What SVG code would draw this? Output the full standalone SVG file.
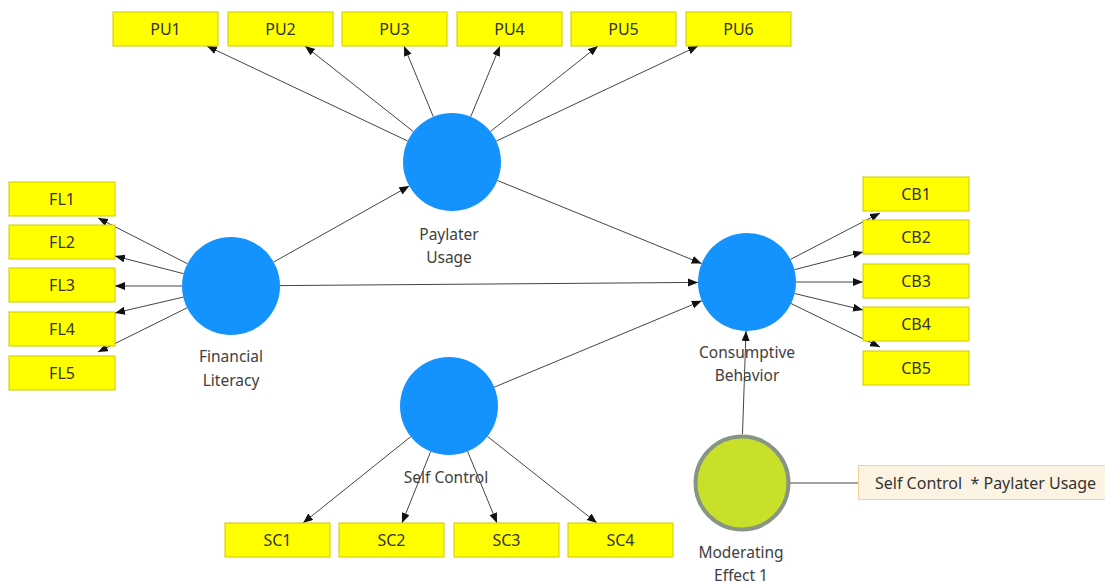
<svg xmlns="http://www.w3.org/2000/svg" width="1105" height="585" viewBox="0 0 1105 585">
<defs>
<marker id="arr" markerUnits="userSpaceOnUse" markerWidth="11" markerHeight="9" refX="10" refY="4" orient="auto">
<path d="M0,0 L10,4 L0,8 z" fill="#111"/>
</marker>
<style>
.box{fill:#ffff00;stroke:#cfc800;stroke-width:1}
.bt{font-family:"Noto Sans","Open Sans",sans-serif;font-size:16px;fill:#333;text-anchor:middle;dominant-baseline:central}
.lv{fill:#1493ff}
.lt{font-family:"Noto Sans","Open Sans",sans-serif;font-size:15.5px;fill:#404040;text-anchor:middle}
.c line{stroke:#444;stroke-width:1;marker-end:url(#arr)}
</style>
</defs>
<rect width="1105" height="585" fill="#fff"/>
<g class="c" id="connectors">
<line x1="407.7" y1="141" x2="207" y2="46"/>
<line x1="413.5" y1="131.7" x2="305" y2="46"/>
<line x1="433.3" y1="116.7" x2="404" y2="46"/>
<line x1="470.7" y1="116.7" x2="500" y2="46"/>
<line x1="490.4" y1="131.5" x2="598" y2="46"/>
<line x1="496.3" y1="141.1" x2="698" y2="46"/>
<line x1="187.4" y1="263.7" x2="98" y2="218"/>
<line x1="183.6" y1="273.7" x2="115" y2="256"/>
<line x1="182" y1="286" x2="115" y2="286"/>
<line x1="183.3" y1="297.1" x2="115" y2="313"/>
<line x1="187.1" y1="307.8" x2="98" y2="352"/>
<line x1="790.5" y1="259.4" x2="880" y2="213"/>
<line x1="794.4" y1="269.7" x2="863" y2="252"/>
<line x1="796" y1="282" x2="863" y2="282"/>
<line x1="794.6" y1="293.5" x2="863" y2="310"/>
<line x1="791" y1="303.5" x2="880" y2="347"/>
<line x1="410.8" y1="436.6" x2="303" y2="523"/>
<line x1="430.7" y1="451.5" x2="402" y2="523"/>
<line x1="467.6" y1="451.3" x2="497" y2="523"/>
<line x1="487.4" y1="436.4" x2="597" y2="523"/>
<line x1="273.7" y1="262" x2="409.3" y2="186"/>
<line x1="280" y1="285.6" x2="698" y2="282.4"/>
<line x1="497.4" y1="180.5" x2="701.6" y2="263.5"/>
<line x1="494.2" y1="387.2" x2="701.8" y2="300.8"/>
<line x1="742.5" y1="434" x2="746" y2="331"/>
<line x1="790" y1="483" x2="858" y2="483" style="marker-end:none"/>
</g>
<g id="PU1"><rect class="box" x="113" y="12" width="105" height="34"/><text class="bt" x="165.5" y="29">PU1</text></g>
<g id="PU2"><rect class="box" x="228" y="12" width="105" height="34"/><text class="bt" x="280.5" y="29">PU2</text></g>
<g id="PU3"><rect class="box" x="342" y="12" width="105" height="34"/><text class="bt" x="394.5" y="29">PU3</text></g>
<g id="PU4"><rect class="box" x="457" y="12" width="105" height="34"/><text class="bt" x="509.5" y="29">PU4</text></g>
<g id="PU5"><rect class="box" x="571" y="12" width="105" height="34"/><text class="bt" x="623.5" y="29">PU5</text></g>
<g id="PU6"><rect class="box" x="686" y="12" width="105" height="34"/><text class="bt" x="738.5" y="29">PU6</text></g>
<g id="FL1"><rect class="box" x="9" y="182" width="106" height="34"/><text class="bt" x="62" y="199">FL1</text></g>
<g id="FL2"><rect class="box" x="9" y="225" width="106" height="34"/><text class="bt" x="62" y="242">FL2</text></g>
<g id="FL3"><rect class="box" x="9" y="268" width="106" height="34"/><text class="bt" x="62" y="285">FL3</text></g>
<g id="FL4"><rect class="box" x="9" y="312" width="106" height="34"/><text class="bt" x="62" y="329">FL4</text></g>
<g id="FL5"><rect class="box" x="9" y="356" width="106" height="34"/><text class="bt" x="62" y="373">FL5</text></g>
<g id="CB1"><rect class="box" x="863" y="177" width="106" height="34"/><text class="bt" x="916" y="194">CB1</text></g>
<g id="CB2"><rect class="box" x="863" y="220" width="106" height="34"/><text class="bt" x="916" y="237">CB2</text></g>
<g id="CB3"><rect class="box" x="863" y="264" width="106" height="34"/><text class="bt" x="916" y="281">CB3</text></g>
<g id="CB4"><rect class="box" x="863" y="307" width="106" height="34"/><text class="bt" x="916" y="324">CB4</text></g>
<g id="CB5"><rect class="box" x="863" y="351" width="106" height="34"/><text class="bt" x="916" y="368">CB5</text></g>
<g id="SC1"><rect class="box" x="225" y="523" width="105" height="34"/><text class="bt" x="277.5" y="540">SC1</text></g>
<g id="SC2"><rect class="box" x="339" y="523" width="105" height="34"/><text class="bt" x="391.5" y="540">SC2</text></g>
<g id="SC3"><rect class="box" x="454" y="523" width="105" height="34"/><text class="bt" x="506.5" y="540">SC3</text></g>
<g id="SC4"><rect class="box" x="568" y="523" width="105" height="34"/><text class="bt" x="620.5" y="540">SC4</text></g>
<g id="PaylaterUsage"><circle class="lv" cx="452" cy="162" r="49"/><text class="lt" x="449" y="240">Paylater</text><text class="lt" x="449" y="263">Usage</text></g>
<g id="FinancialLiteracy"><circle class="lv" cx="231" cy="286" r="49"/><text class="lt" x="231" y="362">Financial</text><text class="lt" x="231" y="386">Literacy</text></g>
<g id="ConsumptiveBehavior"><circle class="lv" cx="747" cy="282" r="49"/><text class="lt" x="747" y="358">Consumptive</text><text class="lt" x="747" y="381">Behavior</text></g>
<g id="SelfControl"><circle class="lv" cx="449" cy="406" r="49"/><text class="lt" x="446" y="483">Self Control</text></g>
<g id="ModeratingEffect1"><circle cx="742" cy="483" r="46.5" fill="#c9e02b" stroke="#879585" stroke-width="4"/><text class="lt" x="741" y="558">Moderating</text><text class="lt" x="741" y="581">Effect 1</text></g>
<g id="Interaction"><rect x="858.5" y="465.5" width="250" height="34" fill="#fdf3e2" stroke="#f3cf9f" stroke-width="1"/><text x="875" y="483" font-family="Noto Sans, Open Sans, sans-serif" font-size="16" fill="#333" dominant-baseline="central" xml:space="preserve">Self Control  * Paylater Usage</text></g>
</svg>
